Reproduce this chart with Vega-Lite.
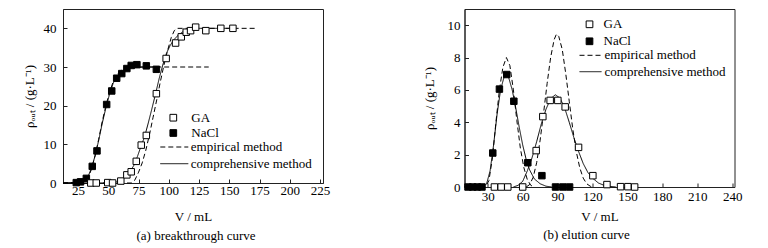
{
 "$schema": "https://vega.github.io/schema/vega-lite/v6.json",
 "background": "white",
 "padding": {"left": 22, "top": 8, "right": 0, "bottom": 0},
 "config": {
  "font": "Liberation Serif",
  "view": {"stroke": "#222", "strokeWidth": 1},
  "axis": {"grid": false, "domainColor": "#222", "tickColor": "#222", "labelColor": "black", "titleColor": "black", "labelFont": "Liberation Serif", "titleFont": "Liberation Serif", "labelFontSize": 13, "titleFontSize": 13, "titleFontWeight": "normal", "tickSize": -4, "labelPadding": 8, "labelOverlap": false, "labelFlush": false},
  "legend": {"labelFont": "Liberation Serif", "labelFontSize": 13, "labelColor": "black", "padding": 0, "title": null},
  "title": {"font": "Liberation Serif", "fontSize": 13, "fontWeight": "normal", "color": "black"},
  "concat": {"spacing": 91.5}
 },
 "resolve": {"scale": {"x": "independent", "y": "independent", "fill": "independent", "strokeDash": "independent"}, "legend": {"fill": "independent", "strokeDash": "independent"}},
 "datasets": {
  "a_pts": [
   {"v": 23.5, "c": 0.1, "series": "NaCl"}, {"v": 27, "c": 0.3, "series": "NaCl"}, {"v": 31.8, "c": 1.2, "series": "NaCl"},
   {"v": 36.7, "c": 4.3, "series": "NaCl"}, {"v": 40.6, "c": 8.3, "series": "NaCl"}, {"v": 48.6, "c": 20.3, "series": "NaCl"},
   {"v": 52.8, "c": 23.8, "series": "NaCl"}, {"v": 56.9, "c": 27.1, "series": "NaCl"}, {"v": 61.1, "c": 28.3, "series": "NaCl"},
   {"v": 65.3, "c": 29.6, "series": "NaCl"}, {"v": 68.9, "c": 30.4, "series": "NaCl"}, {"v": 73.6, "c": 30.6, "series": "NaCl"},
   {"v": 81.4, "c": 30.3, "series": "NaCl"}, {"v": 89.7, "c": 29.4, "series": "NaCl"},
   {"v": 35.5, "c": 0, "series": "GA"}, {"v": 40, "c": 0, "series": "GA"}, {"v": 49.5, "c": 0.1, "series": "GA"},
   {"v": 53.5, "c": 0, "series": "GA"}, {"v": 60.3, "c": 0.5, "series": "GA"}, {"v": 65.3, "c": 2.1, "series": "GA"},
   {"v": 68.9, "c": 2.9, "series": "GA"}, {"v": 73.1, "c": 5.6, "series": "GA"}, {"v": 77.2, "c": 9.8, "series": "GA"},
   {"v": 81.4, "c": 12.3, "series": "GA"}, {"v": 89.7, "c": 23.1, "series": "GA"}, {"v": 97.8, "c": 32.2, "series": "GA"},
   {"v": 105.6, "c": 36.2, "series": "GA"}, {"v": 110.3, "c": 37.8, "series": "GA"}, {"v": 114.4, "c": 39.0, "series": "GA"},
   {"v": 118, "c": 39.4, "series": "GA"}, {"v": 122.2, "c": 40.3, "series": "GA"}, {"v": 130.6, "c": 39.4, "series": "GA"},
   {"v": 143, "c": 40.0, "series": "GA"}, {"v": 153, "c": 40.0, "series": "GA"}
  ],
  "a_lines": [
   {"v": 12.5, "c": 0, "series": "NaCl", "method": "comprehensive method"}, {"v": 25, "c": 0.1, "series": "NaCl", "method": "comprehensive method"},
   {"v": 30, "c": 0.5, "series": "NaCl", "method": "comprehensive method"}, {"v": 33, "c": 1.5, "series": "NaCl", "method": "comprehensive method"},
   {"v": 36, "c": 3.8, "series": "NaCl", "method": "comprehensive method"}, {"v": 39, "c": 7, "series": "NaCl", "method": "comprehensive method"},
   {"v": 42, "c": 11, "series": "NaCl", "method": "comprehensive method"}, {"v": 45, "c": 15.5, "series": "NaCl", "method": "comprehensive method"},
   {"v": 48, "c": 19.5, "series": "NaCl", "method": "comprehensive method"}, {"v": 51, "c": 23, "series": "NaCl", "method": "comprehensive method"},
   {"v": 54, "c": 25.8, "series": "NaCl", "method": "comprehensive method"}, {"v": 57, "c": 27.6, "series": "NaCl", "method": "comprehensive method"},
   {"v": 60, "c": 28.7, "series": "NaCl", "method": "comprehensive method"}, {"v": 65, "c": 29.6, "series": "NaCl", "method": "comprehensive method"},
   {"v": 70, "c": 29.9, "series": "NaCl", "method": "comprehensive method"}, {"v": 80, "c": 30, "series": "NaCl", "method": "comprehensive method"},
   {"v": 90, "c": 30, "series": "NaCl", "method": "comprehensive method"},
   {"v": 12.5, "c": 0, "series": "NaCl", "method": "empirical method"}, {"v": 30, "c": 0.3, "series": "NaCl", "method": "empirical method"},
   {"v": 33, "c": 1.2, "series": "NaCl", "method": "empirical method"}, {"v": 36, "c": 3.5, "series": "NaCl", "method": "empirical method"},
   {"v": 39, "c": 7, "series": "NaCl", "method": "empirical method"}, {"v": 42, "c": 11.3, "series": "NaCl", "method": "empirical method"},
   {"v": 45, "c": 16, "series": "NaCl", "method": "empirical method"}, {"v": 48, "c": 20, "series": "NaCl", "method": "empirical method"},
   {"v": 51, "c": 23.5, "series": "NaCl", "method": "empirical method"}, {"v": 54, "c": 26.2, "series": "NaCl", "method": "empirical method"},
   {"v": 57, "c": 28, "series": "NaCl", "method": "empirical method"}, {"v": 60, "c": 29, "series": "NaCl", "method": "empirical method"},
   {"v": 65, "c": 29.8, "series": "NaCl", "method": "empirical method"}, {"v": 70, "c": 30, "series": "NaCl", "method": "empirical method"},
   {"v": 133, "c": 30, "series": "NaCl", "method": "empirical method"},
   {"v": 12.5, "c": 0, "series": "GA", "method": "comprehensive method"}, {"v": 50, "c": 0, "series": "GA", "method": "comprehensive method"},
   {"v": 55, "c": 0.1, "series": "GA", "method": "comprehensive method"}, {"v": 60, "c": 0.6, "series": "GA", "method": "comprehensive method"},
   {"v": 65, "c": 1.8, "series": "GA", "method": "comprehensive method"}, {"v": 68, "c": 3, "series": "GA", "method": "comprehensive method"},
   {"v": 71, "c": 4.5, "series": "GA", "method": "comprehensive method"}, {"v": 74, "c": 6.8, "series": "GA", "method": "comprehensive method"},
   {"v": 77, "c": 9.5, "series": "GA", "method": "comprehensive method"}, {"v": 80, "c": 12, "series": "GA", "method": "comprehensive method"},
   {"v": 83, "c": 15.5, "series": "GA", "method": "comprehensive method"}, {"v": 86, "c": 19.2, "series": "GA", "method": "comprehensive method"},
   {"v": 89, "c": 23, "series": "GA", "method": "comprehensive method"}, {"v": 92, "c": 27, "series": "GA", "method": "comprehensive method"},
   {"v": 95, "c": 30.5, "series": "GA", "method": "comprehensive method"}, {"v": 98, "c": 33.5, "series": "GA", "method": "comprehensive method"},
   {"v": 101, "c": 35.5, "series": "GA", "method": "comprehensive method"}, {"v": 104, "c": 37, "series": "GA", "method": "comprehensive method"},
   {"v": 108, "c": 38.3, "series": "GA", "method": "comprehensive method"}, {"v": 112, "c": 39.2, "series": "GA", "method": "comprehensive method"},
   {"v": 116, "c": 39.7, "series": "GA", "method": "comprehensive method"}, {"v": 120, "c": 40, "series": "GA", "method": "comprehensive method"},
   {"v": 155, "c": 40, "series": "GA", "method": "comprehensive method"},
   {"v": 12.5, "c": 0, "series": "GA", "method": "empirical method"}, {"v": 69, "c": 0, "series": "GA", "method": "empirical method"},
   {"v": 72, "c": 0.8, "series": "GA", "method": "empirical method"}, {"v": 75, "c": 2.8, "series": "GA", "method": "empirical method"},
   {"v": 78, "c": 5.2, "series": "GA", "method": "empirical method"}, {"v": 81, "c": 8.5, "series": "GA", "method": "empirical method"},
   {"v": 84, "c": 12.5, "series": "GA", "method": "empirical method"}, {"v": 87, "c": 17, "series": "GA", "method": "empirical method"},
   {"v": 90, "c": 21.5, "series": "GA", "method": "empirical method"}, {"v": 93, "c": 26.2, "series": "GA", "method": "empirical method"},
   {"v": 96, "c": 30.5, "series": "GA", "method": "empirical method"}, {"v": 99, "c": 34.3, "series": "GA", "method": "empirical method"},
   {"v": 102, "c": 37.6, "series": "GA", "method": "empirical method"}, {"v": 104.5, "c": 39.4, "series": "GA", "method": "empirical method"},
   {"v": 107, "c": 40, "series": "GA", "method": "empirical method"}, {"v": 173, "c": 40, "series": "GA", "method": "empirical method"}
  ],
  "b_pts": [
   {"v": 13, "c": 0, "series": "NaCl"}, {"v": 17, "c": 0, "series": "NaCl"}, {"v": 21, "c": 0, "series": "NaCl"}, {"v": 25, "c": 0, "series": "NaCl"},
   {"v": 34.3, "c": 2.1, "series": "NaCl"}, {"v": 40, "c": 6.05, "series": "NaCl"}, {"v": 46.3, "c": 6.95, "series": "NaCl"},
   {"v": 52.4, "c": 5.3, "series": "NaCl"}, {"v": 64.4, "c": 1.5, "series": "NaCl"}, {"v": 76.5, "c": 0.7, "series": "NaCl"},
   {"v": 88.2, "c": 0, "series": "NaCl"}, {"v": 94.5, "c": 0, "series": "NaCl"}, {"v": 100.3, "c": 0, "series": "NaCl"},
   {"v": 35.7, "c": 0, "series": "GA"}, {"v": 41.5, "c": 0, "series": "GA"}, {"v": 47.2, "c": 0, "series": "GA"}, {"v": 60, "c": 0, "series": "GA"},
   {"v": 71.6, "c": 2.25, "series": "GA"}, {"v": 77.3, "c": 4.35, "series": "GA"}, {"v": 83.6, "c": 5.35, "series": "GA"},
   {"v": 90.2, "c": 5.35, "series": "GA"}, {"v": 96.5, "c": 4.95, "series": "GA"}, {"v": 108, "c": 2.45, "series": "GA"},
   {"v": 120.3, "c": 0.7, "series": "GA"}, {"v": 132.4, "c": 0.15, "series": "GA"}, {"v": 144.1, "c": 0.02, "series": "GA"},
   {"v": 150.4, "c": 0.02, "series": "GA"}, {"v": 156.2, "c": 0, "series": "GA"}
  ],
  "b_lines": [
   {"v": 10, "c": 0, "series": "NaCl", "method": "comprehensive method"}, {"v": 26, "c": 0, "series": "NaCl", "method": "comprehensive method"},
   {"v": 29, "c": 0.2, "series": "NaCl", "method": "comprehensive method"}, {"v": 32, "c": 1.0, "series": "NaCl", "method": "comprehensive method"},
   {"v": 35, "c": 2.6, "series": "NaCl", "method": "comprehensive method"}, {"v": 38, "c": 4.5, "series": "NaCl", "method": "comprehensive method"},
   {"v": 41, "c": 6.0, "series": "NaCl", "method": "comprehensive method"}, {"v": 44, "c": 6.8, "series": "NaCl", "method": "comprehensive method"},
   {"v": 46, "c": 6.9, "series": "NaCl", "method": "comprehensive method"}, {"v": 48, "c": 6.75, "series": "NaCl", "method": "comprehensive method"},
   {"v": 51, "c": 6.0, "series": "NaCl", "method": "comprehensive method"}, {"v": 54, "c": 4.9, "series": "NaCl", "method": "comprehensive method"},
   {"v": 57, "c": 3.7, "series": "NaCl", "method": "comprehensive method"}, {"v": 60, "c": 2.6, "series": "NaCl", "method": "comprehensive method"},
   {"v": 63, "c": 1.7, "series": "NaCl", "method": "comprehensive method"}, {"v": 66, "c": 1.05, "series": "NaCl", "method": "comprehensive method"},
   {"v": 70, "c": 0.5, "series": "NaCl", "method": "comprehensive method"}, {"v": 75, "c": 0.2, "series": "NaCl", "method": "comprehensive method"},
   {"v": 80, "c": 0.05, "series": "NaCl", "method": "comprehensive method"}, {"v": 85, "c": 0, "series": "NaCl", "method": "comprehensive method"},
   {"v": 10, "c": 0, "series": "NaCl", "method": "empirical method"}, {"v": 28, "c": 0, "series": "NaCl", "method": "empirical method"},
   {"v": 31, "c": 0.4, "series": "NaCl", "method": "empirical method"}, {"v": 34, "c": 1.8, "series": "NaCl", "method": "empirical method"},
   {"v": 37, "c": 4.0, "series": "NaCl", "method": "empirical method"}, {"v": 40, "c": 6.0, "series": "NaCl", "method": "empirical method"},
   {"v": 43, "c": 7.4, "series": "NaCl", "method": "empirical method"}, {"v": 46, "c": 8.0, "series": "NaCl", "method": "empirical method"},
   {"v": 49, "c": 7.5, "series": "NaCl", "method": "empirical method"}, {"v": 52, "c": 6.0, "series": "NaCl", "method": "empirical method"},
   {"v": 55, "c": 4.1, "series": "NaCl", "method": "empirical method"}, {"v": 58, "c": 2.4, "series": "NaCl", "method": "empirical method"},
   {"v": 61, "c": 1.2, "series": "NaCl", "method": "empirical method"}, {"v": 64, "c": 0.45, "series": "NaCl", "method": "empirical method"},
   {"v": 67, "c": 0.1, "series": "NaCl", "method": "empirical method"}, {"v": 70, "c": 0, "series": "NaCl", "method": "empirical method"},
   {"v": 52, "c": 0, "series": "GA", "method": "comprehensive method"}, {"v": 56, "c": 0.1, "series": "GA", "method": "comprehensive method"},
   {"v": 60, "c": 0.35, "series": "GA", "method": "comprehensive method"}, {"v": 64, "c": 1.0, "series": "GA", "method": "comprehensive method"},
   {"v": 68, "c": 1.8, "series": "GA", "method": "comprehensive method"}, {"v": 72, "c": 2.8, "series": "GA", "method": "comprehensive method"},
   {"v": 76, "c": 3.9, "series": "GA", "method": "comprehensive method"}, {"v": 80, "c": 4.8, "series": "GA", "method": "comprehensive method"},
   {"v": 84, "c": 5.45, "series": "GA", "method": "comprehensive method"}, {"v": 88, "c": 5.7, "series": "GA", "method": "comprehensive method"},
   {"v": 92, "c": 5.5, "series": "GA", "method": "comprehensive method"}, {"v": 96, "c": 4.9, "series": "GA", "method": "comprehensive method"},
   {"v": 100, "c": 4.0, "series": "GA", "method": "comprehensive method"}, {"v": 104, "c": 3.05, "series": "GA", "method": "comprehensive method"},
   {"v": 108, "c": 2.2, "series": "GA", "method": "comprehensive method"}, {"v": 112, "c": 1.45, "series": "GA", "method": "comprehensive method"},
   {"v": 116, "c": 0.9, "series": "GA", "method": "comprehensive method"}, {"v": 120, "c": 0.55, "series": "GA", "method": "comprehensive method"},
   {"v": 125, "c": 0.25, "series": "GA", "method": "comprehensive method"}, {"v": 130, "c": 0.1, "series": "GA", "method": "comprehensive method"},
   {"v": 135, "c": 0.03, "series": "GA", "method": "comprehensive method"}, {"v": 140, "c": 0, "series": "GA", "method": "comprehensive method"},
   {"v": 63, "c": 0, "series": "GA", "method": "empirical method"}, {"v": 66, "c": 0.15, "series": "GA", "method": "empirical method"},
   {"v": 69, "c": 0.6, "series": "GA", "method": "empirical method"}, {"v": 72, "c": 1.5, "series": "GA", "method": "empirical method"},
   {"v": 75, "c": 2.9, "series": "GA", "method": "empirical method"}, {"v": 78, "c": 4.6, "series": "GA", "method": "empirical method"},
   {"v": 81, "c": 6.4, "series": "GA", "method": "empirical method"}, {"v": 84, "c": 8.0, "series": "GA", "method": "empirical method"},
   {"v": 87, "c": 9.1, "series": "GA", "method": "empirical method"}, {"v": 89, "c": 9.45, "series": "GA", "method": "empirical method"},
   {"v": 91, "c": 9.3, "series": "GA", "method": "empirical method"}, {"v": 94, "c": 8.5, "series": "GA", "method": "empirical method"},
   {"v": 97, "c": 7.0, "series": "GA", "method": "empirical method"}, {"v": 100, "c": 5.3, "series": "GA", "method": "empirical method"},
   {"v": 103, "c": 3.6, "series": "GA", "method": "empirical method"}, {"v": 106, "c": 2.2, "series": "GA", "method": "empirical method"},
   {"v": 109, "c": 1.2, "series": "GA", "method": "empirical method"}, {"v": 112, "c": 0.55, "series": "GA", "method": "empirical method"},
   {"v": 115, "c": 0.2, "series": "GA", "method": "empirical method"}, {"v": 118, "c": 0.05, "series": "GA", "method": "empirical method"},
   {"v": 120, "c": 0, "series": "GA", "method": "empirical method"}
  ]
 },
 "hconcat": [
  {
   "width": 260, "height": 174,
   "title": {"text": "(a) breakthrough curve", "orient": "bottom", "offset": 7, "frame": "group", "dx": 3},
   "layer": [
    {
     "data": {"name": "a_lines"},
     "mark": {"type": "line", "color": "black", "strokeWidth": 1},
     "encoding": {
      "x": {"field": "v", "type": "quantitative", "scale": {"domain": [12.5, 227.5], "nice": false, "zero": false},
            "axis": {"values": [25, 50, 75, 100, 125, 150, 175, 200, 225], "tickCount": 20, "format": "d", "title": "V / mL", "titlePadding": 13, "labelPadding": 5, "labelOverlap": false}},
      "y": {"field": "c", "type": "quantitative", "scale": {"domain": [0, 45], "nice": false},
            "axis": {"values": [0, 10, 20, 30, 40], "tickCount": 20, "format": "d", "title": "ρₒᵤₜ / (g·L⁻¹)", "titlePadding": 7, "labelPadding": 11, "labelOverlap": false}},
      "detail": {"field": "series"},
      "strokeDash": {"field": "method", "type": "nominal",
                     "scale": {"domain": ["empirical method", "comprehensive method"], "range": [[5, 3], [1, 0]]},
                     "legend": {"orient": "none", "legendX": 96.8, "legendY": 131, "symbolType": "stroke", "symbolSize": 784, "symbolStrokeColor": "black", "symbolStrokeWidth": 1, "clipHeight": 14, "labelOffset": 2, "rowPadding": 2.7}}
     }
    },
    {
     "data": {"name": "a_pts"},
     "mark": {"type": "point", "shape": "square", "filled": true, "stroke": "black", "strokeWidth": 1, "size": 42, "opacity": 1},
     "encoding": {
      "x": {"field": "v", "type": "quantitative"},
      "y": {"field": "c", "type": "quantitative"},
      "fill": {"field": "series", "type": "nominal", "scale": {"domain": ["GA", "NaCl"], "range": ["white", "black"]},
               "legend": {"orient": "none", "legendX": 103.8, "legendY": 102.2, "symbolType": "square", "symbolSize": 45, "symbolStrokeColor": "black", "symbolStrokeWidth": 1, "labelOffset": 11.5, "rowPadding": 1.3}}
     }
    }
   ]
  },
  {
   "width": 270, "height": 178,
   "title": {"text": "(b) elution curve", "orient": "bottom", "offset": 6, "frame": "group", "dx": -13},
   "layer": [
    {
     "data": {"name": "b_lines"},
     "mark": {"type": "line", "color": "black", "strokeWidth": 1},
     "encoding": {
      "x": {"field": "v", "type": "quantitative", "scale": {"domain": [10, 242], "nice": false, "zero": false},
            "axis": {"values": [30, 60, 90, 120, 150, 180, 210, 240], "tickCount": 20, "format": "d", "title": "V / mL", "titlePadding": 7, "labelPadding": 7, "labelOverlap": false}},
      "y": {"field": "c", "type": "quantitative", "scale": {"domain": [0, 11], "nice": false},
            "axis": {"values": [0, 2, 4, 6, 8, 10], "tickCount": 20, "format": "d", "title": "ρₒᵤₜ / (g·L⁻¹)", "titlePadding": 10.5, "labelPadding": 8.5, "labelOverlap": false}},
      "detail": {"field": "series"},
      "strokeDash": {"field": "method", "type": "nominal",
                     "scale": {"domain": ["empirical method", "comprehensive method"], "range": [[5, 3], [1, 0]]},
                     "legend": {"orient": "none", "legendX": 114.5, "legendY": 39.3, "symbolType": "stroke", "symbolSize": 484, "symbolStrokeColor": "black", "symbolStrokeWidth": 1, "clipHeight": 14, "labelOffset": 2.5, "rowPadding": 2.4}}
     }
    },
    {
     "data": {"name": "b_pts"},
     "mark": {"type": "point", "shape": "square", "filled": true, "stroke": "black", "strokeWidth": 1, "size": 42, "opacity": 1},
     "encoding": {
      "x": {"field": "v", "type": "quantitative"},
      "y": {"field": "c", "type": "quantitative"},
      "fill": {"field": "series", "type": "nominal", "scale": {"domain": ["GA", "NaCl"], "range": ["white", "black"]},
               "legend": {"orient": "none", "legendX": 118.5, "legendY": 8.8, "symbolType": "square", "symbolSize": 45, "symbolStrokeColor": "black", "symbolStrokeWidth": 1, "labelOffset": 7.5, "rowPadding": 3}}
     }
    }
   ]
  }
 ]
}
